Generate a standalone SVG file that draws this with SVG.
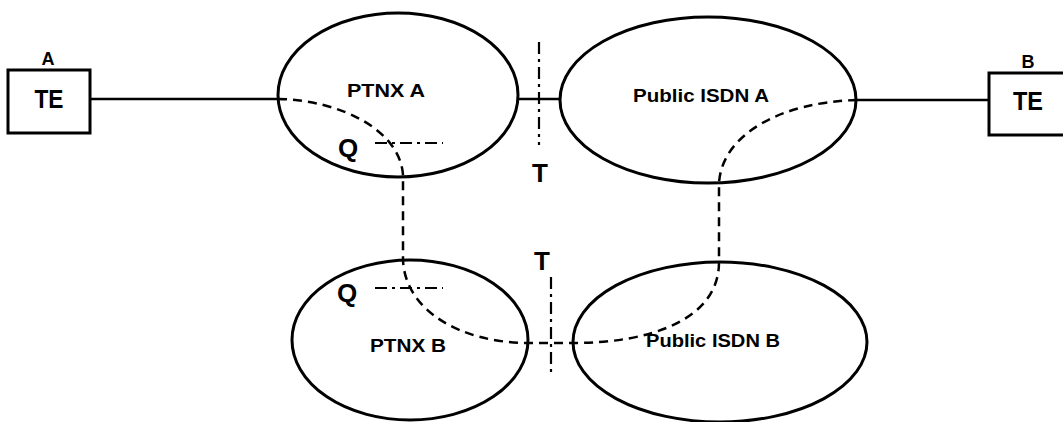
<svg xmlns="http://www.w3.org/2000/svg" width="1063" height="422" viewBox="0 0 1063 422">
<style>
.shape{fill:#fff;stroke:#000;stroke-width:3}
.line{fill:none;stroke:#000;stroke-width:2.5}
.dash{fill:none;stroke:#000;stroke-width:2.5;stroke-dasharray:9 6}
.dashdot{fill:none;stroke:#000;stroke-width:2.2;stroke-dasharray:12 5 3 5}
text{font-family:"Liberation Sans",Arial,sans-serif;font-weight:bold;fill:#000;text-anchor:middle}
.lbl{font-size:18px}
.big{font-size:26px}
</style>
<g id="connectors">
<line class="line" x1="90" y1="99" x2="278" y2="99"/>
<line class="line" x1="518" y1="99" x2="560" y2="99"/>
<line class="line" x1="857" y1="100" x2="989" y2="100"/>
</g>
<g id="ptnx-a">
<ellipse class="shape" cx="398" cy="95" rx="120" ry="82"/>
<text class="lbl" x="386" y="97" textLength="78" lengthAdjust="spacingAndGlyphs">PTNX A</text>
</g>
<g id="public-isdn-a">
<ellipse class="shape" cx="708" cy="100" rx="148" ry="83"/>
<text class="lbl" x="701" y="102" textLength="136" lengthAdjust="spacingAndGlyphs">Public ISDN A</text>
</g>
<g id="ptnx-b">
<ellipse class="shape" cx="410" cy="340" rx="118" ry="80"/>
<text class="lbl" x="408" y="352" textLength="76" lengthAdjust="spacingAndGlyphs">PTNX B</text>
</g>
<g id="public-isdn-b">
<ellipse class="shape" cx="720" cy="342" rx="147" ry="80"/>
<text class="lbl" x="713" y="347" textLength="134" lengthAdjust="spacingAndGlyphs">Public ISDN B</text>
</g>
<g id="te-a">
<rect class="shape" x="8" y="70" width="82" height="63"/>
<text class="big" x="49" y="108" textLength="29" lengthAdjust="spacingAndGlyphs">TE</text>
<text class="lbl" x="48" y="65">A</text>
</g>
<g id="te-b">
<rect class="shape" x="989" y="73" width="90" height="62"/>
<text class="big" x="1028" y="110" textLength="30" lengthAdjust="spacingAndGlyphs">TE</text>
<text class="lbl" x="1028" y="68">B</text>
</g>
<g id="signalling-path">
<path class="dash" d="M278,99 C340,100 400,130 403,175 V260 C405,310 460,343 529,343 H573 C650,343 719,320 719,262 V183 C722,135 780,102 857,100"/>
</g>
<g id="reference-points">
<line class="dashdot" x1="375" y1="143" x2="443" y2="143"/>
<text class="big" x="348" y="157">Q</text>
<line class="dashdot" x1="375" y1="288" x2="443" y2="288"/>
<text class="big" x="347" y="302">Q</text>
<line class="dashdot" x1="539" y1="42" x2="539" y2="145"/>
<text class="big" x="540" y="182">T</text>
<line class="dashdot" x1="551" y1="277" x2="551" y2="377"/>
<text class="big" x="542" y="270">T</text>
</g>
</svg>
